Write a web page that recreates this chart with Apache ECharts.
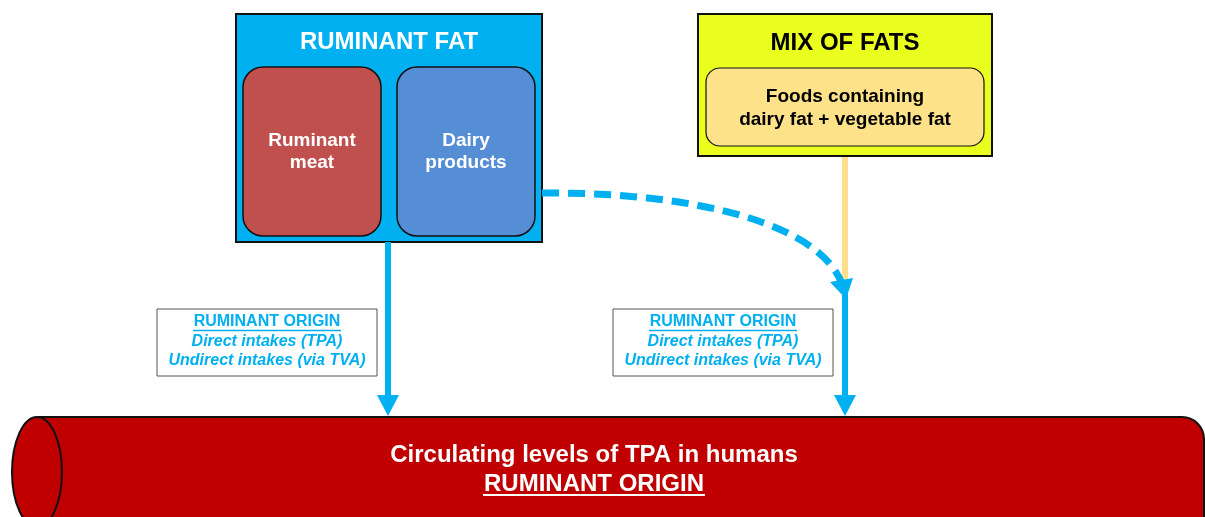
<!DOCTYPE html>
<html>
<head>
<meta charset="utf-8">
<script src="https://cdn.jsdelivr.net/npm/echarts@6/dist/echarts.min.js"></script>
<style>
  html, body { margin: 0; padding: 0; background: #fff; }
  #chart { width: 1205px; height: 517px; }
</style>
</head>
<body>
<div id="chart"></div>
<script>
// texts of the diagram
const boxTitles = ["RUMINANT FAT", "MIX OF FATS"];
const foodLabels = ["Ruminant\nmeat", "Dairy\nproducts", "Foods containing\ndairy fat + vegetable fat"];
const originLines = ["RUMINANT ORIGIN", "Direct intakes (TPA)", "Undirect intakes (via TVA)"];
const bloodLines = ["Circulating levels of TPA in humans", "RUMINANT ORIGIN"];

const FONT = "Liberation Sans, Arial, sans-serif";
const BLUE = "#00B0F0";

const myChart = echarts.init(document.getElementById("chart"), null, { renderer: "canvas" });

// label box (white box with blue text) at left x
function originBox(x) {
  const cx = x + 110;
  return [
    { type: "rect", shape: { x: x, y: 309, width: 220, height: 67 },
      style: { fill: "#fff", stroke: "#555", lineWidth: 1 } },
    { type: "text", x: cx, y: 322,
      style: { text: originLines[0], fill: BLUE, font: "bold 16px " + FONT, align: "center", verticalAlign: "middle" } },
    { type: "line", shape: { x1: cx - 74, y1: 330.5, x2: cx + 74, y2: 330.5 },
      style: { stroke: BLUE, lineWidth: 1.4 } },
    { type: "text", x: cx, y: 342,
      style: { text: originLines[1], fill: BLUE, font: "italic bold 16px " + FONT, align: "center", verticalAlign: "middle" } },
    { type: "text", x: cx, y: 361,
      style: { text: originLines[2], fill: BLUE, font: "italic bold 16px " + FONT, align: "center", verticalAlign: "middle" } },
  ];
}

// straight arrow down
function arrowDown(x, y1, y2) {
  return [
    { type: "line", shape: { x1: x, y1: y1, x2: x, y2: y2 - 18 },
      style: { stroke: BLUE, lineWidth: 6 } },
    { type: "polygon", shape: { points: [[x - 11, y2 - 21], [x + 11, y2 - 21], [x, y2]] },
      style: { fill: BLUE } },
  ];
}

const elements = [
  // yellow connector
  { type: "line", shape: { x1: 845, y1: 156, x2: 845, y2: 292 },
    style: { stroke: "#FFE08A", lineWidth: 6 } },

  // blood vessel cylinder
  { type: "rect", shape: { x: 37, y: 417, width: 1167, height: 130, r: [0, 22, 0, 0] },
    style: { fill: "#C00000", stroke: "#111", lineWidth: 2 } },
  { type: "ellipse", shape: { cx: 37, cy: 472, rx: 25, ry: 55 },
    style: { fill: "#C00000", stroke: "#111", lineWidth: 2 } },
  { type: "text", x: 594, y: 455,
    style: { text: bloodLines[0], fill: "#fff", font: "bold 24px " + FONT, align: "center", verticalAlign: "middle" } },
  { type: "text", x: 594, y: 484,
    style: { text: bloodLines[1], fill: "#fff", font: "bold 24px " + FONT, align: "center", verticalAlign: "middle" } },
  { type: "line", shape: { x1: 483, y1: 495, x2: 705, y2: 495 },
    style: { stroke: "#fff", lineWidth: 1.8 } },

  // ruminant fat box
  { type: "rect", shape: { x: 236, y: 14, width: 306, height: 228 },
    style: { fill: BLUE, stroke: "#111", lineWidth: 2 } },
  { type: "text", x: 389, y: 42,
    style: { text: boxTitles[0], fill: "#fff", font: "bold 24px " + FONT, align: "center", verticalAlign: "middle" } },
  { type: "rect", shape: { x: 243, y: 67, width: 138, height: 169, r: 20 },
    style: { fill: "#C0504D", stroke: "#111", lineWidth: 1.5 } },
  { type: "rect", shape: { x: 397, y: 67, width: 138, height: 169, r: 20 },
    style: { fill: "#558ED5", stroke: "#111", lineWidth: 1.5 } },
  { type: "text", x: 312, y: 152,
    style: { text: foodLabels[0], fill: "#fff", font: "bold 19px " + FONT, lineHeight: 22, align: "center", verticalAlign: "middle" } },
  { type: "text", x: 466, y: 152,
    style: { text: foodLabels[1], fill: "#fff", font: "bold 19px " + FONT, lineHeight: 22, align: "center", verticalAlign: "middle" } },

  // mix of fats box
  { type: "rect", shape: { x: 698, y: 14, width: 294, height: 142 },
    style: { fill: "#EAFF1E", stroke: "#111", lineWidth: 2 } },
  { type: "text", x: 845, y: 43,
    style: { text: boxTitles[1], fill: "#000", font: "bold 24px " + FONT, align: "center", verticalAlign: "middle" } },
  { type: "rect", shape: { x: 706, y: 68, width: 278, height: 78, r: 14 },
    style: { fill: "#FDE28A", stroke: "#111", lineWidth: 1.2 } },
  { type: "text", x: 845, y: 108,
    style: { text: foodLabels[2], fill: "#000", font: "bold 19px " + FONT, lineHeight: 23, align: "center", verticalAlign: "middle" } },

  // dashed curve from dairy to the right arrow
  { type: "bezierCurve",
    shape: { x1: 542, y1: 193, cpx1: 700, cpy1: 192, cpx2: 820, cpy2: 225, x2: 842, y2: 284 },
    style: { stroke: BLUE, lineWidth: 7, lineDash: [17, 9], fill: null } },
  { type: "polygon", shape: { points: [[830, 282], [853, 278], [846, 299]] },
    style: { fill: BLUE } },
];

elements.push(...arrowDown(388, 242, 416));
elements.push(...arrowDown(845, 292, 416));
elements.push(...originBox(157));
elements.push(...originBox(613));

myChart.setOption({
  animation: false,
  graphic: { elements: elements },
});
</script>
</body>
</html>
